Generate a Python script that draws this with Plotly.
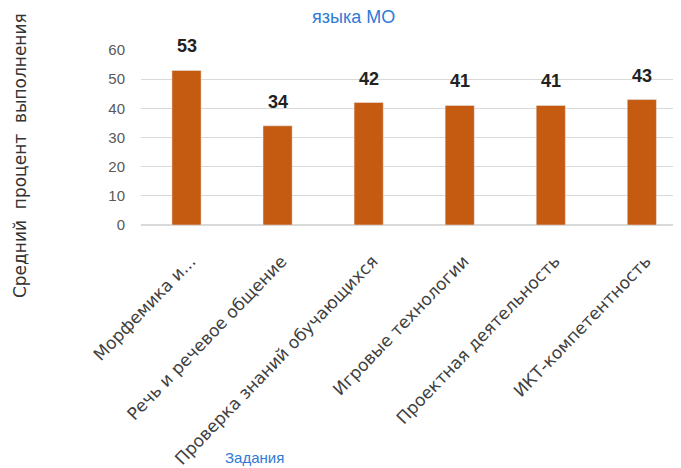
import plotly.graph_objects as go

categories = ["Морфемика и...", "Речь и речевое общение", "Проверка знаний обучающихся",
              "Игровые технологии", "Проектная деятельность", "ИКТ-компетентность"]
values = [53, 34, 42, 41, 41, 43]
y_ticks = [0, 10, 20, 30, 40, 50, 60]

bar_color = "#c55a11"
blue = "#2f7ad6"

fig = go.Figure()
fig.add_trace(go.Bar(x=categories, y=values, marker_color=bar_color, width=0.32,
                     hoverinfo="skip"))

annotations = []
for c, v in zip(categories, values):
    annotations.append(dict(x=c, y=v, xref="x", yref="y", text=f"<b>{v}</b>", showarrow=False,
                            yanchor="bottom", yshift=12,
                            font=dict(family="Liberation Sans", size=18, color="#222222")))
annotations.append(dict(text="языка МО", xref="paper", yref="paper", x=0.394, y=1.19,
                        xanchor="center", yanchor="middle", showarrow=False,
                        font=dict(family="Liberation Sans", size=18, color=blue)))
annotations.append(dict(text="Задания", xref="paper", yref="paper", x=0.211, y=-1.326,
                        xanchor="center", yanchor="middle", showarrow=False,
                        font=dict(family="Liberation Sans", size=15, color=blue)))
annotations.append(dict(text="Средний  процент  выполнения", xref="paper", yref="paper",
                        x=-0.224, y=0.394, textangle=-90, showarrow=False,
                        xanchor="center", yanchor="middle",
                        font=dict(family="DejaVu Sans", size=17, color="#333333")))

fig.update_layout(
    width=673, height=460,
    margin=dict(l=133, r=0, t=42, b=243),
    plot_bgcolor="white", paper_bgcolor="white",
    showlegend=False,
    annotations=annotations,
    xaxis=dict(range=[-0.5, 5.43], tickangle=-46, showgrid=False, showline=False,
               ticks="", ticklabelstandoff=22, ticklabelshift=4, automargin=False,
               tickfont=dict(family="DejaVu Sans", size=17, color="#404040")),
    yaxis=dict(range=[0, 60], tickvals=y_ticks, showgrid=True, gridcolor="#d9d9d9",
               gridwidth=1, zeroline=True, zerolinecolor="#d9d9d9", ticks="",
               ticklabelstandoff=15, automargin=False,
               tickfont=dict(family="Liberation Sans", size=15, color="#595959")),
)
fig.write_html("out.html")
